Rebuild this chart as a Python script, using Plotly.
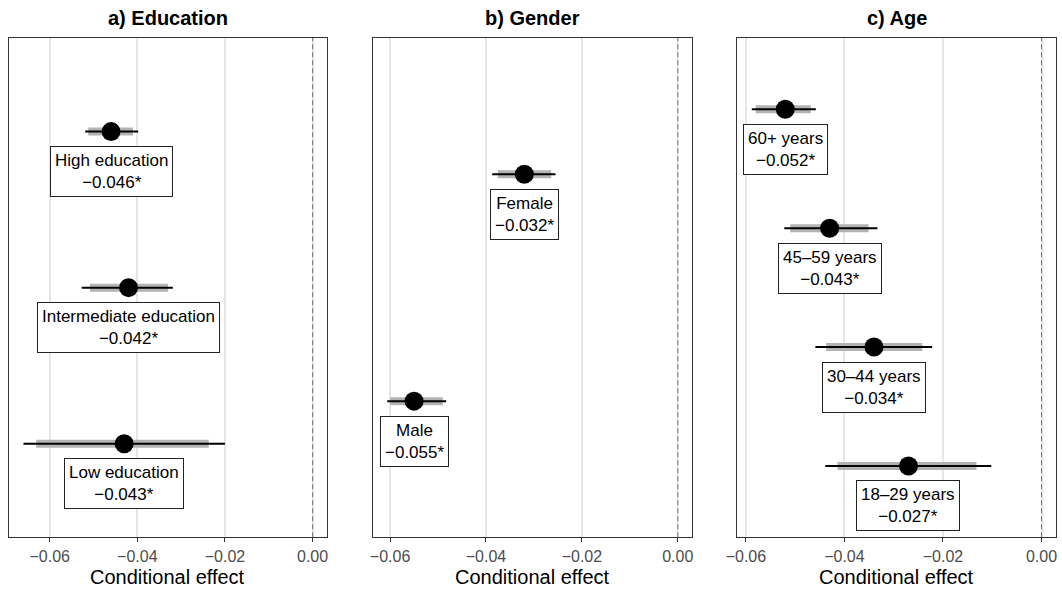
import plotly.graph_objects as go

# ---- data -----------------------------------------------------------------
# Categories listed bottom-to-top within each panel
edu_groups = ["Low education", "Intermediate education", "High education"]
edu_est = [-0.043, -0.042, -0.046]
edu_lo95 = [-0.0660, -0.0527, -0.0519]
edu_hi95 = [-0.0200, -0.0319, -0.0398]
edu_lo90 = [-0.0631, -0.0508, -0.0512]
edu_hi90 = [-0.0237, -0.0330, -0.0410]

gen_groups = ["Male", "Female"]
gen_est = [-0.055, -0.032]
gen_lo95 = [-0.0606, -0.0387]
gen_hi95 = [-0.0483, -0.0255]
gen_lo90 = [-0.0600, -0.0375]
gen_hi90 = [-0.0490, -0.0264]

age_groups = ["18–29 years", "30–44 years", "45–59 years", "60+ years"]
age_est = [-0.027, -0.034, -0.043, -0.052]
age_lo95 = [-0.0439, -0.0459, -0.0522, -0.0588]
age_hi95 = [-0.0102, -0.0222, -0.0333, -0.0458]
age_lo90 = [-0.0414, -0.0437, -0.0510, -0.0580]
age_hi90 = [-0.0132, -0.0242, -0.0351, -0.0468]

panel_titles = ["a) Education", "b) Gender", "c) Age"]
tick_values = [-0.06, -0.04, -0.02, 0.0]
tick_labels = ["−0.06", "−0.04", "−0.02", "0.00"]
axis_label = "Conditional effect"

# ---- layout geometry ------------------------------------------------------
W, H = 1062, 590
x_domains = [[9 / W, 327 / W], [372.7 / W, 692.3 / W], [737.3 / W, 1056 / W]]
y_domain = [1 - 537.3 / H, 1 - 38 / H]
FONT = "Liberation Sans, Arial, Helvetica, sans-serif"

panels = [
    (edu_groups, edu_est, edu_lo95, edu_hi95, edu_lo90, edu_hi90),
    (gen_groups, gen_est, gen_lo95, gen_hi95, gen_lo90, gen_hi90),
    (age_groups, age_est, age_lo95, age_hi95, age_lo90, age_hi90),
]


def fmt(v):
    return f"{v:.3f}".replace("-", "−")


def segments(lo, hi, ys):
    xs, yy = [], []
    for a, b, y in zip(lo, hi, ys):
        xs += [a, b, None]
        yy += [y, y, None]
    return xs, yy


fig = go.Figure()
annotations = []
shapes = []

for i, (groups, est, lo95, hi95, lo90, hi90) in enumerate(panels):
    n = i + 1
    xref = "x" if n == 1 else f"x{n}"
    yref = "y" if n == 1 else f"y{n}"
    ypos = list(range(1, len(groups) + 1))

    # 90% interval (thick grey)
    gx, gy = segments(lo90, hi90, ypos)
    fig.add_trace(go.Scatter(x=gx, y=gy, mode="lines",
                             line=dict(color="#B3B3B3", width=8),
                             xaxis=xref, yaxis=yref, hoverinfo="skip",
                             showlegend=False))
    # 95% interval (thin black)
    bx, by = segments(lo95, hi95, ypos)
    fig.add_trace(go.Scatter(x=bx, y=by, mode="lines",
                             line=dict(color="black", width=2),
                             xaxis=xref, yaxis=yref, hoverinfo="skip",
                             showlegend=False))
    # point estimates
    fig.add_trace(go.Scatter(x=est, y=ypos, mode="markers",
                             marker=dict(color="black", size=19),
                             xaxis=xref, yaxis=yref, showlegend=False))

    # labels under each estimate
    for g, e, y in zip(groups, est, ypos):
        annotations.append(dict(
            x=e, y=y, xref=xref, yref=yref,
            text=f"{g}<br>{fmt(e)}*", showarrow=False,
            xanchor="center", yanchor="middle", yshift=-40,
            font=dict(family=FONT, size=17, color="black"),
            bgcolor="white", bordercolor="#222222", borderwidth=1,
            borderpad=4,
        ))

    # reference line at zero
    shapes.append(dict(type="line", xref=xref, yref=f"{yref} domain",
                       x0=0, x1=0, y0=0, y1=1,
                       line=dict(color="#7F7F7F", width=1.1, dash="5px,3px"),
                       layer="above"))

    # x range: data incl. zero, expanded by 5 %
    xmin = min(min(lo95), 0.0)
    xmax = max(max(hi95), 0.0)
    pad = 0.05 * (xmax - xmin)
    axis_common = dict(showline=True, mirror=True, linecolor="#333333",
                       linewidth=1.3, zeroline=False)
    fig.update_layout(**{
        ("xaxis" if n == 1 else f"xaxis{n}"): dict(
            domain=x_domains[i], anchor=yref,
            range=[xmin - pad, xmax + pad],
            tickmode="array", tickvals=tick_values, ticktext=tick_labels,
            ticks="outside", ticklen=4, tickcolor="#333333", tickwidth=1,
            showgrid=True, gridcolor="#E6E6E6", gridwidth=1.6,
            tickfont=dict(family=FONT, size=16, color="#4D4D4D"),
            automargin=False, **axis_common),
        ("yaxis" if n == 1 else f"yaxis{n}"): dict(
            domain=y_domain, anchor=xref,
            range=[0.4, len(groups) + 0.6],
            showticklabels=False, ticks="", showgrid=False,
            automargin=False, **axis_common),
    })

    cx = (x_domains[i][0] + x_domains[i][1]) / 2
    # panel title
    annotations.append(dict(
        x=cx, y=1 - 18 / H, xref="paper", yref="paper",
        text=f"<b>{panel_titles[i]}</b>", showarrow=False,
        xanchor="center", yanchor="middle",
        font=dict(family=FONT, size=20, color="black")))
    # x axis title
    annotations.append(dict(
        x=cx, y=1 - 577 / H, xref="paper", yref="paper",
        text=axis_label, showarrow=False,
        xanchor="center", yanchor="middle",
        font=dict(family=FONT, size=20, color="black")))

fig.update_layout(
    width=W, height=H,
    margin=dict(l=0, r=0, t=0, b=0),
    paper_bgcolor="white", plot_bgcolor="white",
    annotations=annotations, shapes=shapes,
    showlegend=False,
)

fig.write_html("out.html")
